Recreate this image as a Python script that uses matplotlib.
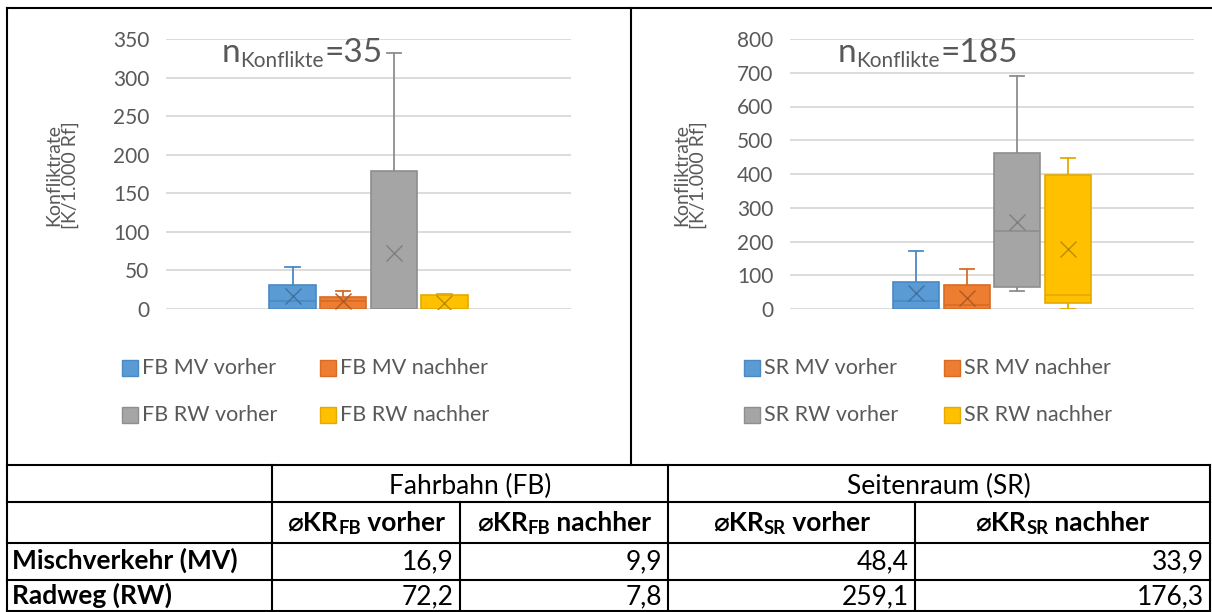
import matplotlib
matplotlib.use('Agg')
import matplotlib.pyplot as plt
from matplotlib.lines import Line2D
from matplotlib.patches import Rectangle
from matplotlib.transforms import IdentityTransform

# ---------------- data ----------------
fb_labels = ['FB MV vorher', 'FB MV nachher', 'FB RW vorher', 'FB RW nachher']
fb_q1 = [0, 0, 0, 0]
fb_med = [10.5, 11, 0, 0]
fb_q3 = [31.5, 15.5, 179, 18]
fb_whislo = [0, 0, 0, 0]
fb_whishi = [54, 23, 332, 20]
fb_mean = [16.9, 9.9, 72.2, 7.8]
fb_n = 35
fb_yticks = [0, 50, 100, 150, 200, 250, 300, 350]

sr_labels = ['SR MV vorher', 'SR MV nachher', 'SR RW vorher', 'SR RW nachher']
sr_q1 = [0, 0, 66, 17]
sr_med = [25, 13, 232, 42]
sr_q3 = [79, 72, 463, 398]
sr_whislo = [0, 0, 54, 0]
sr_whishi = [173, 119, 689, 446]
sr_mean = [48.4, 33.9, 259.1, 176.3]
sr_n = 185
sr_yticks = [0, 100, 200, 300, 400, 500, 600, 700, 800]

ylabel = 'Konfliktrate\n[K/1.000 Rf]'

table_groups = ['Fahrbahn (FB)', 'Seitenraum (SR)']
table_cols = [('FB', 'vorher'), ('FB', 'nachher'), ('SR', 'vorher'), ('SR', 'nachher')]
table_rows = ['Mischverkehr (MV)', 'Radweg (RW)']
table_values = [['16,9', '9,9', '48,4', '33,9'],
                ['72,2', '7,8', '259,1', '176,3']]

# ---------------- style ----------------
W, H = 1212, 612
FONT = ['Lato', 'DejaVu Sans']
plt.rcParams['font.family'] = FONT
fills = ['#5B9BD5', '#ED7D31', '#A5A5A5', '#FFC000']
edges = ['#4A89C4', '#D86C26', '#8E8E8E', '#E3AA00']
marks = ['#41719C', '#AE5A21', '#7F7F7F', '#BC8C00']
TXT = '#595959'

fig = plt.figure(figsize=(W / 100, H / 100), dpi=100)
renderer = fig.canvas.get_renderer()
ID = IdentityTransform()


def line(x0, y0, x1, y1, lw=1.5):
    fig.add_artist(Line2D([x0, x1], [H - y0, H - y1], transform=ID,
                          color='black', lw=lw, solid_capstyle='projecting'))


def rich(x, y, pieces, ha='left', weight='normal', color='black'):
    """pieces: (text, size, drop_px); y is the baseline in image pixels."""
    items = []
    for s, size, dy in pieces:
        t = fig.text(0, 0, s, fontsize=size, weight=weight, color=color,
                     va='baseline', ha='left', transform=ID, family=FONT)
        w = t.get_window_extent(renderer).width
        items.append((t, dy, w))
    total = sum(i[2] for i in items)
    x0 = x - total / 2 if ha == 'center' else (x - total if ha == 'right' else x)
    for t, dy, w in items:
        t.set_position((x0, H - y - dy))
        x0 += w


def chart(rect_px, labels, q1, med, q3, wlo, whi, mean, yticks, n, n_x, ylab_x,
          leg_x):
    x0, y0, x1, y1 = rect_px
    ax = fig.add_axes([x0 / W, 1 - y1 / H, (x1 - x0) / W, (y1 - y0) / H])
    stats = []
    for i in range(len(labels)):
        stats.append(dict(label=labels[i], q1=q1[i], med=med[i], q3=q3[i],
                          whislo=wlo[i], whishi=whi[i], mean=mean[i], fliers=[]))
    pos = [0.5 + (i - 1.5) * 0.125 for i in range(len(labels))]
    bp = ax.bxp(stats, positions=pos, widths=0.114, patch_artist=True,
                showmeans=True, showfliers=False, capwidths=0.035,
                manage_ticks=False)
    for i in range(len(labels)):
        bp['boxes'][i].set(facecolor=fills[i], edgecolor=edges[i], lw=1.2, zorder=3)
        bp['medians'][i].set(color=edges[i], lw=1.2, zorder=4)
        for k in (2 * i, 2 * i + 1):
            bp['whiskers'][k].set(color=edges[i], lw=1.3, zorder=2)
            bp['caps'][k].set(color=edges[i], lw=1.3, zorder=2)
        bp['means'][i].set(marker='x', markersize=12, markeredgewidth=1.0,
                           markeredgecolor=marks[i], zorder=5)
    ax.set_xlim(0, 1)
    ax.set_ylim(yticks[0], yticks[-1])
    ax.set_yticks(yticks)
    ax.set_xticks([])
    ax.grid(axis='y', color='#D9D9D9', lw=1.3)
    ax.set_axisbelow(True)
    for s in ax.spines.values():
        s.set_visible(False)
    ax.tick_params(axis='y', length=0, labelsize=15, colors=TXT, pad=12)
    ax.set_facecolor('none')
    # y label
    fig.text(ylab_x / W, 1 - 175 / H, ylabel, rotation=90, ha='center',
             va='center', fontsize=14, color=TXT, linespacing=1.0)
    # n annotation
    rich(n_x, 62, [('n', 24, 0), ('Konflikte', 15, 5), ('=%d' % n, 24, 0)],
         color=TXT)
    # legend
    order = [(0, 0, 0), (1, 1, 0), (2, 0, 1), (3, 1, 1)]
    for i, col, row in order:
        sx = leg_x[col]
        sy = 360 + row * 47
        fig.add_artist(Rectangle((sx, H - sy - 16), 16, 16, transform=ID,
                                 facecolor=fills[i], edgecolor=edges[i], lw=1.0))
        fig.text(sx + 20, H - sy - 8, labels[i], transform=ID, va='center',
                 ha='left', fontsize=15.5, color=TXT)
    return ax


chart((166, 39, 571, 309), fb_labels, fb_q1, fb_med, fb_q3, fb_whislo, fb_whishi,
      fb_mean, fb_yticks, fb_n, 222, 62, (122, 320))
chart((790, 39, 1194, 309), sr_labels, sr_q1, sr_med, sr_q3, sr_whislo, sr_whishi,
      sr_mean, sr_yticks, sr_n, 838, 690, (744, 944))

# ---------------- frame ----------------
line(7, 8, 1212, 8)
line(7, 8, 7, 612)
line(631, 8, 631, 465)

# ---------------- table ----------------
col_x = [7, 272, 460, 668, 915, 1210]
row_y = [465, 502, 543, 580, 611]
for y in row_y:
    line(7, y, 1210, y)
line(1210, 465, 1210, 611)
line(272, 465, 272, 611)
line(668, 465, 668, 611)
line(460, 502, 460, 611)
line(915, 502, 915, 611)

TS = 19
rich((272 + 668) / 2, 494, [(table_groups[0], TS, 0)], ha='center')
rich((668 + 1210) / 2, 494, [(table_groups[1], TS, 0)], ha='center')
for j, (sub, word) in enumerate(table_cols):
    cx = (col_x[j + 1] + col_x[j + 2]) / 2
    rich(cx, 531, [('\u2300KR', TS, 0), (sub, TS * 0.7, 3), (' ' + word, TS, 0)],
         ha='center', weight='bold')
for r, name in enumerate(table_rows):
    yb = [569, 604][r]
    rich(12, yb, [(name, TS, 0)], weight='bold')
    for j, v in enumerate(table_values[r]):
        rich(col_x[j + 2] - 6, yb, [(v, TS, 0)], ha='right')

fig.savefig('out.png', dpi=100, facecolor='white')
